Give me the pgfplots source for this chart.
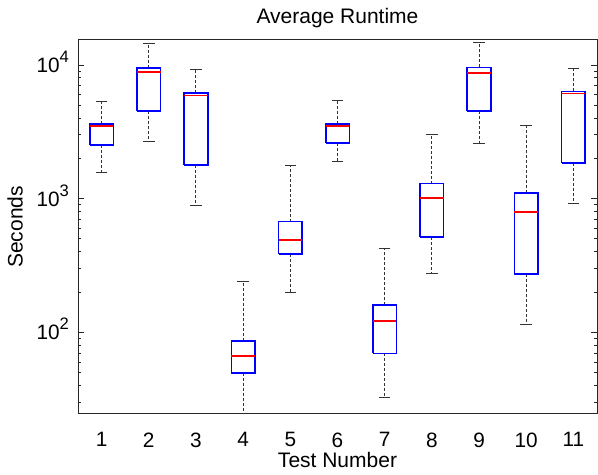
\documentclass[border=0pt]{standalone}
\usepackage{fontspec}
\setmainfont{Liberation Sans}
\usepackage{pgfplots}
\pgfplotsset{compat=1.18}
\newcommand{\tenp}[1]{10\raisebox{5pt}{\fontsize{8.3}{9}\selectfont #1}}
\begin{document}
\begin{tikzpicture}
\begin{axis}[
  width=259.5pt, height=187pt, scale only axis,
  xmin=0.5, xmax=11.5,
  ymode=log, ymin=24.5, ymax=15400,
  unbounded coords=jump,
  xtick={1,2,3,4,5,6,7,8,9,10,11},
  xtick style={draw=none},
  ytick={100,1000,10000},
  yticklabels={\tenp{2},\tenp{3},\tenp{4}},
  minor ytick={30,40,50,60,70,80,90,200,300,400,500,600,700,800,900,2000,3000,4000,5000,6000,7000,8000,9000},
  tick align=inside,
  major tick length=3pt, minor tick length=1.7pt,
  axis line style={black!85, line width=0.5pt},
  every tick/.style={black!85, line width=0.5pt},
  /pgf/number format/assume math mode=true,
  tick label style={font=\fontsize{10.4}{12}\selectfont},
  xticklabel style={yshift=-5.8pt},
  yticklabel style={anchor=base east, yshift=-3.7pt, xshift=-1pt},
  title={Average Runtime},
  every axis title/.style={at={(axis description cs:0.5,1.045)}, anchor=base, font=\fontsize{10.5}{12}\selectfont},
  xlabel={Test Number},
  xlabel style={at={(axis description cs:0.5,-0.142)}, anchor=base, font=\fontsize{10.5}{12}\selectfont},
  ylabel={Seconds},
  ylabel style={at={(axis description cs:-0.121,0.5)}, anchor=center, font=\fontsize{10.5}{12}\selectfont},
]
% whiskers (dashed): from box edge to whisker end
\addplot[draw=black!80, line width=0.5pt, dash pattern=on 1.5pt off 1pt, mark=none] coordinates {
(1,3606) (1,5320) (1,nan) (1,2535) (1,1566) (1,nan)
(2,9550) (2,14520) (2,nan) (2,4510) (2,2660) (2,nan)
(3,6210) (3,9290) (3,nan) (3,1790) (3,888) (3,nan)
(4,86.5) (4,239) (4,nan) (4,49.9) (4,15) (4,nan)
(5,675) (5,1767) (5,nan) (5,385) (5,198) (5,nan)
(6,3623) (6,5450) (6,nan) (6,2600) (6,1893) (6,nan)
(7,160) (7,427) (7,nan) (7,69.5) (7,32.6) (7,nan)
(8,1297) (8,3013) (8,nan) (8,515) (8,275) (8,nan)
(9,9610) (9,14680) (9,nan) (9,4510) (9,2570) (9,nan)
(10,1099) (10,3515) (10,nan) (10,273) (10,114) (10,nan)
(11,6350) (11,9390) (11,nan) (11,1841) (11,914)
};
% boxes: lower quartile to upper quartile
\addplot[draw=blue, line width=0.8pt, mark=none] coordinates {
(0.75,2535) (1.25,2535) (1.25,3606) (0.75,3606) (0.75,2535) (1,nan)
(1.75,4510) (2.25,4510) (2.25,9550) (1.75,9550) (1.75,4510) (2,nan)
(2.75,1790) (3.25,1790) (3.25,6210) (2.75,6210) (2.75,1790) (3,nan)
(3.75,49.9) (4.25,49.9) (4.25,86.5) (3.75,86.5) (3.75,49.9) (4,nan)
(4.75,385) (5.25,385) (5.25,675) (4.75,675) (4.75,385) (5,nan)
(5.75,2600) (6.25,2600) (6.25,3623) (5.75,3623) (5.75,2600) (6,nan)
(6.75,69.5) (7.25,69.5) (7.25,160) (6.75,160) (6.75,69.5) (7,nan)
(7.75,515) (8.25,515) (8.25,1297) (7.75,1297) (7.75,515) (8,nan)
(8.75,4510) (9.25,4510) (9.25,9610) (8.75,9610) (8.75,4510) (9,nan)
(9.75,273) (10.25,273) (10.25,1099) (9.75,1099) (9.75,273) (10,nan)
(10.75,1841) (11.25,1841) (11.25,6350) (10.75,6350) (10.75,1841)
};
% medians
\addplot[draw=red, line width=0.8pt, mark=none] coordinates {
(0.75,3500) (1.25,3500) (1,nan)
(1.75,8910) (2.25,8910) (2,nan)
(2.75,5900) (3.25,5900) (3,nan)
(3.75,66.5) (4.25,66.5) (4,nan)
(4.75,492) (5.25,492) (5,nan)
(5.75,3517) (6.25,3517) (6,nan)
(6.75,121) (7.25,121) (7,nan)
(7.75,1009) (8.25,1009) (8,nan)
(8.75,8760) (9.25,8760) (9,nan)
(9.75,796) (10.25,796) (10,nan)
(10.75,6140) (11.25,6140)
};
% whisker caps
\addplot[only marks, mark=-, mark size=2.9pt, mark options={draw=black!80, line width=0.5pt}] coordinates {
(1,5320) (2,14520) (3,9290) (4,239) (5,1767) (6,5450) (7,427) (8,3013) (9,14680) (10,3515) (11,9390)
(1,1566) (2,2660) (3,888) (5,198) (6,1893) (7,32.6) (8,275) (9,2570) (10,114) (11,914)
};
\end{axis}
\path (current axis.south west) ++(-39pt,-30.5pt) coordinate (bbA);
\path (current axis.north east) ++(0.5pt,20pt) coordinate (bbB);
\useasboundingbox (bbA) rectangle (bbB);
\end{tikzpicture}
\end{document}
